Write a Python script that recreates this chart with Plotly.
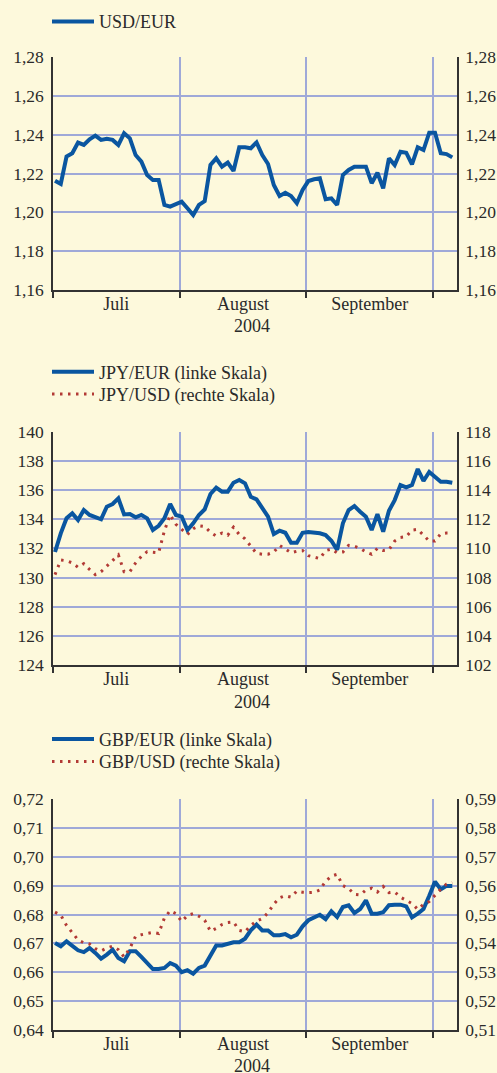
import plotly.graph_objects as go
import pandas as pd

# ---------------- data ----------------
dates = pd.bdate_range("2004-07-01", "2004-10-06")   # business days shown
month_names = ["Juli", "August", "September"]
year_label = "2004"

usd_eur = [1.2163, 1.2146, 1.2287, 1.2304, 1.2359, 1.2347, 1.2376, 1.2395, 1.2373, 1.2379,
           1.2373, 1.2347, 1.2407, 1.2381, 1.2295, 1.2261, 1.2192, 1.2167, 1.2167, 1.2038,
           1.2029, 1.2043, 1.2055, 1.2021, 1.1986, 1.2038, 1.2058, 1.2244, 1.2278, 1.2235,
           1.2256, 1.2213, 1.2335, 1.2335, 1.2330, 1.2360, 1.2295, 1.2249, 1.2141, 1.2084,
           1.2101, 1.2084, 1.2047, 1.2115, 1.2161, 1.2170, 1.2175, 1.2067, 1.2072, 1.2038,
           1.2192, 1.2218, 1.2235, 1.2235, 1.2235, 1.2150, 1.2204, 1.2124, 1.2278, 1.2244,
           1.2312, 1.2307, 1.2247, 1.2335, 1.2321, 1.2410, 1.2410, 1.2304, 1.2300, 1.2283]

jpy_eur = [131.75, 133.03, 134.06, 134.40, 133.94, 134.63, 134.29, 134.17, 133.99, 134.86,
           135.04, 135.43, 134.33, 134.35, 134.13, 134.29, 134.06, 133.26, 133.55, 134.06,
           135.04, 134.29, 134.17, 133.26, 133.72, 134.29, 134.68, 135.73, 136.16, 135.89,
           135.89, 136.50, 136.69, 136.46, 135.54, 135.36, 134.81, 134.17, 132.98, 133.21,
           133.07, 132.39, 132.39, 133.07, 133.12, 133.07, 133.03, 132.91, 132.52, 131.90,
           133.72, 134.63, 134.90, 134.51, 134.17, 133.26, 134.35, 133.14, 134.58, 135.31,
           136.34, 136.19, 136.34, 137.44, 136.62, 137.24, 136.91, 136.57, 136.57, 136.50]

jpy_usd = [108.20, 109.20, 109.15, 109.00, 108.70, 108.95, 108.55, 108.20, 108.40, 108.80,
           109.15, 109.55, 108.40, 108.40, 109.00, 109.45, 109.77, 109.75, 109.70, 111.20,
           112.30, 111.65, 111.30, 110.95, 111.35, 111.55, 111.50, 111.10, 110.85, 111.05,
           110.90, 111.45, 110.95, 110.65, 110.15, 109.65, 109.60, 109.60, 109.75, 110.20,
           109.95, 109.70, 109.80, 109.85, 109.50, 109.38, 109.30, 109.85, 109.95, 109.70,
           109.75, 110.20, 110.15, 110.00, 109.75, 109.60, 110.00, 109.85, 109.90, 110.50,
           110.75, 110.80, 111.25, 111.30, 110.90, 110.50, 110.50, 111.00, 111.05, 111.05]

gbp_eur = [0.6701, 0.6690, 0.6707, 0.6692, 0.6676, 0.6670, 0.6684, 0.6667, 0.6647, 0.6661,
           0.6678, 0.6649, 0.6638, 0.6673, 0.6673, 0.6653, 0.6632, 0.6611, 0.6611, 0.6615,
           0.6632, 0.6623, 0.6600, 0.6607, 0.6595, 0.6615, 0.6623, 0.6661, 0.6693, 0.6693,
           0.6699, 0.6704, 0.6704, 0.6716, 0.6745, 0.6765, 0.6745, 0.6745, 0.6728, 0.6728,
           0.6732, 0.6721, 0.6730, 0.6759, 0.6780, 0.6791, 0.6799, 0.6784, 0.6811, 0.6791,
           0.6826, 0.6832, 0.6805, 0.6819, 0.6849, 0.6803, 0.6803, 0.6808, 0.6832, 0.6834,
           0.6834, 0.6828, 0.6790, 0.6803, 0.6819, 0.6865, 0.6914, 0.6887, 0.6899, 0.6899]

gbp_usd = [0.5508, 0.5498, 0.5462, 0.5437, 0.5412, 0.5402, 0.5398, 0.5382, 0.5374, 0.5384,
           0.5390, 0.5378, 0.5353, 0.5383, 0.5425, 0.5430, 0.5434, 0.5438, 0.5434, 0.5488,
           0.5513, 0.5503, 0.5476, 0.5496, 0.5503, 0.5494, 0.5480, 0.5442, 0.5452, 0.5465,
           0.5472, 0.5474, 0.5445, 0.5440, 0.5462, 0.5477, 0.5486, 0.5506, 0.5536, 0.5558,
           0.5565, 0.5560, 0.5581, 0.5577, 0.5576, 0.5577, 0.5585, 0.5615, 0.5633, 0.5639,
           0.5600, 0.5590, 0.5570, 0.5568, 0.5585, 0.5591, 0.5578, 0.5597, 0.5576, 0.5578,
           0.5560, 0.5550, 0.5538, 0.5518, 0.5535, 0.5545, 0.5568, 0.5588, 0.5605, 0.5610]

usd_ticks = [1.16, 1.18, 1.20, 1.22, 1.24, 1.26, 1.28]
jpy_eur_ticks = [124, 126, 128, 130, 132, 134, 136, 138, 140]
jpy_usd_ticks = [102, 104, 106, 108, 110, 112, 114, 116, 118]
gbp_eur_ticks = [0.64, 0.65, 0.66, 0.67, 0.68, 0.69, 0.70, 0.71, 0.72]
gbp_usd_ticks = [0.51, 0.52, 0.53, 0.54, 0.55, 0.56, 0.57, 0.58, 0.59]

# ---------------- styling ----------------
BG = "#fdf9dc"
GRID = "#9fa9d8"
AXIS = "#333333"
BLUE = "#0a56a0"
RED = "#b23a35"
TXT = "#2a2a2a"
FONT = "Liberation Serif, Times New Roman, serif"
DOTS = "2.5px,5.5px"
H = 1073
W = 497

idx = list(range(len(dates)))
OFF = 0.35
firsts = []
for m in [7, 8, 9, 10]:
    firsts.append(int(next(i for i, d in enumerate(dates) if d.month == m)))
bounds = [f - OFF for f in firsts]
centers = [(bounds[k] + bounds[k + 1]) / 2 for k in range(3)]
xr = [-OFF, len(dates) - 1 + 0.82]

def ydom(top_px, bot_px):
    return [1 - bot_px / H, 1 - top_px / H]

XDOM = [53 / W, 457 / W]

fig = go.Figure()

fig.add_trace(go.Scatter(x=idx, y=usd_eur, name="USD/EUR", mode="lines",
                         line=dict(color=BLUE, width=4), xaxis="x", yaxis="y",
                         legend="legend"))
# empty helper trace so that the mirrored right-hand scale of panel 1 is drawn
fig.add_trace(go.Scatter(x=[], y=[], xaxis="x", yaxis="y2", showlegend=False,
                         mode="lines"))
fig.add_trace(go.Scatter(x=idx, y=jpy_eur, name="JPY/EUR (linke Skala)", mode="lines",
                         line=dict(color=BLUE, width=4), xaxis="x2", yaxis="y3",
                         legend="legend2"))
fig.add_trace(go.Scatter(x=idx, y=jpy_usd, name="JPY/USD (rechte Skala)", mode="lines",
                         line=dict(color=RED, width=3, dash=DOTS), xaxis="x2", yaxis="y4",
                         legend="legend3"))
fig.add_trace(go.Scatter(x=idx, y=gbp_eur, name="GBP/EUR (linke Skala)", mode="lines",
                         line=dict(color=BLUE, width=4), xaxis="x3", yaxis="y5",
                         legend="legend4"))
fig.add_trace(go.Scatter(x=idx, y=gbp_usd, name="GBP/USD (rechte Skala)", mode="lines",
                         line=dict(color=RED, width=3, dash=DOTS), xaxis="x3", yaxis="y6",
                         legend="legend5"))

tickfont = dict(family=FONT, size=17.5, color=TXT)

def xaxis(anchor):
    return dict(domain=XDOM, anchor=anchor, range=xr, showgrid=False, zeroline=False,
                tickmode="array", tickvals=centers, ticktext=month_names, ticks="",
                tickfont=dict(family=FONT, size=18, color=TXT), automargin=False,
                ticklabelstandoff=-3,
                showline=True, linecolor=AXIS, linewidth=1.5,
                minor=dict(tickmode="array", tickvals=bounds, ticks="outside", ticklen=6,
                           tickcolor=AXIS, tickwidth=1.5, showgrid=True,
                           gridcolor=GRID, gridwidth=1.5),
                fixedrange=True)

def yleft(dom, rng, ticks, fmt, anchor):
    return dict(domain=dom, anchor=anchor, range=rng, tickmode="array", tickvals=ticks,
                tickformat=fmt, showgrid=True, gridcolor=GRID, gridwidth=1.5,
                zeroline=False, showline=True, linecolor=AXIS, linewidth=1.5,
                ticks="", tickfont=tickfont, ticklabelstandoff=4, automargin=False,
                fixedrange=True)

def yright(over, rng, ticks, fmt, anchor):
    return dict(overlaying=over, side="right", anchor=anchor, range=rng, tickmode="array",
                tickvals=ticks, tickformat=fmt, showgrid=False, zeroline=False,
                showline=True, linecolor=AXIS, linewidth=1.5, ticks="",
                tickfont=tickfont, ticklabelstandoff=3, automargin=False,
                fixedrange=True)

d1 = ydom(57, 290)
d2 = ydom(431.7, 665)
d3 = ydom(799, 1030)

legfont = dict(family=FONT, size=18, color=TXT)

def leg(ypx):
    return dict(x=47 / W, y=1 - ypx / H, xanchor="left", yanchor="middle",
                bgcolor="rgba(0,0,0,0)", borderwidth=0, font=legfont, itemwidth=42)

fig.update_layout(
    width=W, height=H,
    margin=dict(l=0, r=0, t=0, b=0, autoexpand=False),
    paper_bgcolor=BG, plot_bgcolor=BG,
    separators=",.",
    showlegend=True,
    xaxis=xaxis("y"),
    yaxis=yleft(d1, [usd_ticks[0], usd_ticks[-1]], usd_ticks, ".2f", "x"),
    yaxis2=yright("y", [usd_ticks[0], usd_ticks[-1]], usd_ticks, ".2f", "x"),
    xaxis2=xaxis("y3"),
    yaxis3=yleft(d2, [jpy_eur_ticks[0], jpy_eur_ticks[-1]], jpy_eur_ticks, "d", "x2"),
    yaxis4=yright("y3", [jpy_usd_ticks[0], jpy_usd_ticks[-1]], jpy_usd_ticks, "d", "x2"),
    xaxis3=xaxis("y5"),
    yaxis5=yleft(d3, [gbp_eur_ticks[0], gbp_eur_ticks[-1]], gbp_eur_ticks, ".2f", "x3"),
    yaxis6=yright("y5", [gbp_usd_ticks[0], gbp_usd_ticks[-1]], gbp_usd_ticks, ".2f", "x3"),
    legend=leg(21.7),
    legend2=leg(372),
    legend3=leg(394.3),
    legend4=leg(739.3),
    legend5=leg(761.7),
    hovermode=False,
)

for ypx in [326, 702]:
    fig.add_annotation(text=year_label, x=252 / W, y=1 - ypx / H, xref="paper", yref="paper",
                       showarrow=False, xanchor="center", yanchor="middle",
                       font=dict(family=FONT, size=18, color=TXT))
# last year label sits at the very bottom edge of the page
fig.add_annotation(text=year_label, x=252 / W, y=-4 / H, xref="paper", yref="paper",
                   showarrow=False, xanchor="center", yanchor="bottom", borderpad=0,
                   font=dict(family=FONT, size=18, color=TXT))

fig.write_html(
    "out.html",
    config={"displayModeBar": False},
    post_script="document.body.style.margin='0';document.body.style.background='" + BG + "';",
)
